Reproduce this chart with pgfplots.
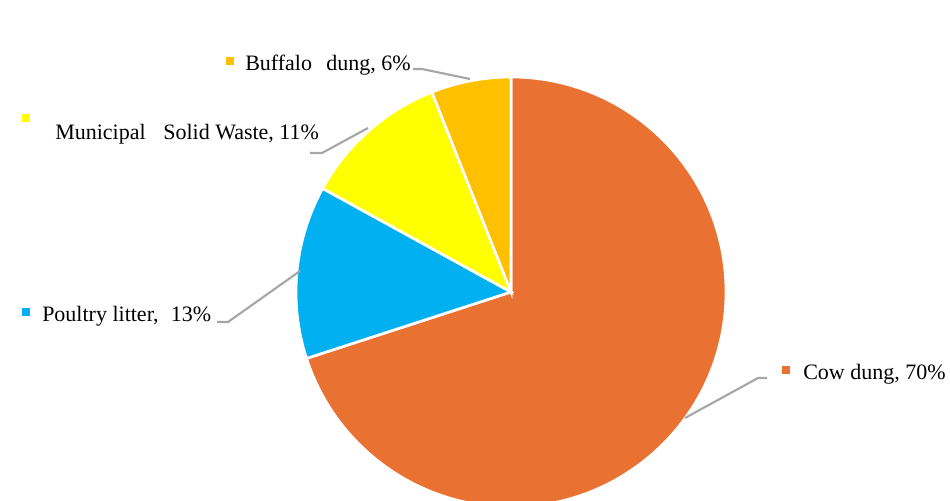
\documentclass[border=0pt]{standalone}
\usepackage{pgfplots}
\pgfplotsset{compat=1.18}
\usepackage{fontspec}
\setmainfont{Liberation Serif}
\definecolor{cowc}{HTML}{E97132}
\definecolor{poultc}{HTML}{00B0F0}
\definecolor{mswc}{HTML}{FFFF00}
\definecolor{bufc}{HTML}{FFC000}
\definecolor{leadc}{HTML}{A6A6A6}
\newcommand\lblfont{\fontsize{16.5pt}{19pt}\selectfont}
\begin{document}
\begin{tikzpicture}
% data (percent)
\def\vCow{70}\def\vPoult{13}\def\vMSW{11}\def\vBuf{6}
\pgfmathsetmacro{\aA}{90}
\pgfmathsetmacro{\aB}{\aA-3.6*\vCow}
\pgfmathsetmacro{\aC}{\aB-3.6*\vPoult}
\pgfmathsetmacro{\aD}{\aC-3.6*\vMSW}
\pgfmathsetmacro{\aE}{\aD-3.6*\vBuf}
\def\R{161.25pt}
\begin{axis}[
  width=712.5pt, height=375pt, scale only axis,
  xmin=0, xmax=950, ymin=0, ymax=500, y dir=reverse,
  hide axis, clip=true,
]
\fill[cowc, draw=white, line width=2pt] (axis cs:511,292) -- ([shift={(\aA:\R)}]axis cs:511,292) arc[start angle=\aA, end angle=\aB, radius=\R] -- cycle;
\fill[poultc, draw=white, line width=2pt] (axis cs:511,292) -- ([shift={(\aB:\R)}]axis cs:511,292) arc[start angle=\aB, end angle=\aC, radius=\R] -- cycle;
\fill[mswc, draw=white, line width=2pt] (axis cs:511,292) -- ([shift={(\aC:\R)}]axis cs:511,292) arc[start angle=\aC, end angle=\aD, radius=\R] -- cycle;
\fill[bufc, draw=white, line width=2pt] (axis cs:511,292) -- ([shift={(\aD:\R)}]axis cs:511,292) arc[start angle=\aD, end angle=\aE, radius=\R] -- cycle;
% leader lines
\addplot[leadc, line width=1.6pt, no marks] coordinates {(413,69) (422,69) (470,79)};
\addplot[leadc, line width=1.6pt, no marks] coordinates {(310,153) (322,153) (368,128)};
\addplot[leadc, line width=1.6pt, no marks] coordinates {(217,322) (228,322) (300,271)};
\addplot[leadc, line width=1.6pt, no marks] coordinates {(767,378) (758,378) (685,418)};
% legend keys
\addplot[only marks, mark=square*, mark size=2.8pt, bufc] coordinates {(230,61)};
\addplot[only marks, mark=square*, mark size=2.8pt, mswc] coordinates {(25.5,118)};
\addplot[only marks, mark=square*, mark size=2.8pt, poultc] coordinates {(25.5,312)};
\addplot[only marks, mark=square*, mark size=2.8pt, cowc] coordinates {(785.5,369.5)};
% labels
\node[anchor=base west, inner sep=0pt, font=\lblfont] at (axis cs:245,70.5) {Buffalo\hspace{0.4em} dung, 6\%};
\node[anchor=base west, inner sep=0pt, font=\lblfont] at (axis cs:55,139) {Municipal\hspace{0.55em} Solid Waste, 11\%};
\node[anchor=base west, inner sep=0pt, font=\lblfont] at (axis cs:42,321.5) {Poultry litter,\hspace{0.3em} 13\%};
\node[anchor=base west, inner sep=0pt, font=\lblfont] at (axis cs:803,379) {Cow dung, 70\%};
\end{axis}
\pgfresetboundingbox
\path[use as bounding box] (current axis.south west) rectangle (current axis.north east);
\end{tikzpicture}
\end{document}
